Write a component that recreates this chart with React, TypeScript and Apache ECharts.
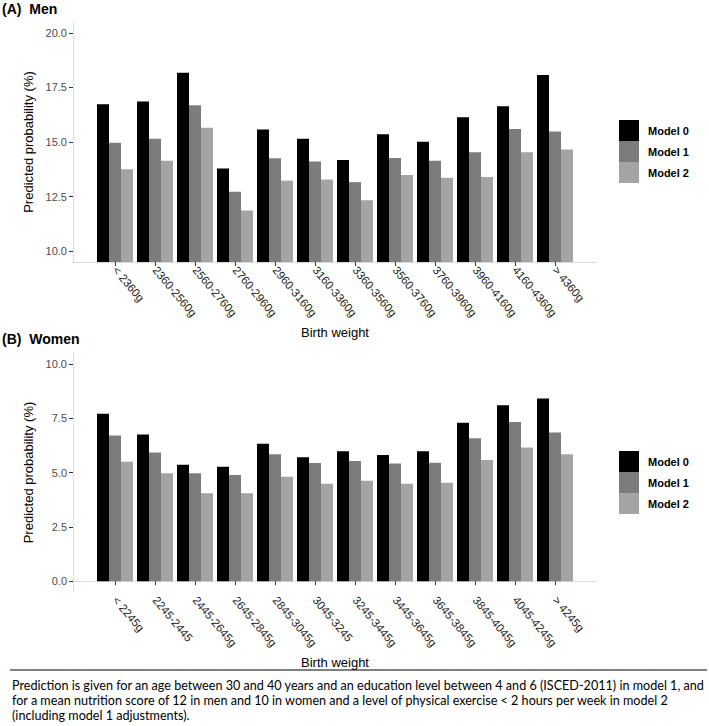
import React, { useEffect, useRef } from "react";
import * as echarts from "echarts";

const menCategories = [
  "< 2360g", "2360-2560g", "2560-2760g", "2760-2960g", "2960-3160g", "3160-3360g",
  "3360-3560g", "3560-3760g", "3760-3960g", "3960-4160g", "4160-4360g", "> 4360g",
];
const womenCategories = [
  "< 2245g", "2245-2445", "2445-2645g", "2645-2845g", "2845-3045g", "3045-3245",
  "3245-3445g", "3445-3645g", "3645-3845g", "3845-4045g", "4045-4245g", "> 4245g",
];
const seriesNames = ["Model 0", "Model 1", "Model 2"];

const menModel0 = [16.73, 16.86, 18.17, 13.78, 15.57, 15.15, 14.18, 15.36, 15.01, 16.14, 16.64, 18.07];
const menModel1 = [14.96, 15.15, 16.69, 12.72, 14.26, 14.11, 13.16, 14.27, 14.14, 14.53, 15.6, 15.48];
const menModel2 = [13.75, 14.14, 15.65, 11.86, 13.23, 13.28, 12.33, 13.49, 13.36, 13.4, 14.53, 14.66];

const womenModel0 = [7.7, 6.75, 5.36, 5.27, 6.32, 5.7, 5.98, 5.81, 5.98, 7.29, 8.1, 8.41];
const womenModel1 = [6.7, 5.92, 4.96, 4.88, 5.84, 5.44, 5.53, 5.41, 5.45, 6.58, 7.32, 6.84];
const womenModel2 = [5.49, 4.96, 4.05, 4.05, 4.81, 4.48, 4.62, 4.48, 4.53, 5.58, 6.15, 5.84];

const menTicks = [10, 12.5, 15, 17.5, 20];
const womenTicks = [0, 2.5, 5, 7.5, 10];

const captionLines = [
  "Prediction is given for an age between 30 and 40 years and an education level between 4 and 6 (ISCED-2011) in model 1, and",
  "for a mean nutrition score of 12 in men and 10 in women and a level of physical exercise < 2 hours per week in model 2",
  "(including model 1 adjustments).",
];

const colors = ["#000000", "#7c7c7c", "#a4a4a4"];
const FONT = "'Liberation Sans', Arial, sans-serif";
const AXIS_LINE = "#dcdcdc";

function frameY(ticks: number[], min: number, max: number, gridIndex: number) {
  return {
    type: "value",
    gridIndex,
    min,
    max,
    axisLine: { show: true, lineStyle: { color: AXIS_LINE, width: 1 } },
    axisTick: { show: true, length: 4, lineStyle: { color: "#333333" }, customValues: ticks },
    axisLabel: {
      customValues: ticks,
      formatter: (v: number) => v.toFixed(1),
      fontSize: 11,
      color: "#4d4d4d",
      fontFamily: FONT,
      margin: 6,
    },
    splitLine: { show: false },
    name: "Predicted probability (%)",
    nameLocation: "middle",
    nameRotate: 90,
    nameGap: 31,
    nameTextStyle: { fontSize: 13, color: "#000", fontFamily: FONT },
  };
}

function frameX(gridIndex: number) {
  return {
    type: "value",
    gridIndex,
    min: 0,
    max: 1,
    axisLine: { show: true, lineStyle: { color: AXIS_LINE, width: 1 } },
    axisTick: { show: false },
    axisLabel: { show: false },
    splitLine: { show: false },
  };
}

function dataX(cats: string[], gridIndex: number) {
  return {
    type: "category",
    gridIndex,
    data: cats,
    axisLine: { show: false },
    axisTick: { show: true, alignWithLabel: true, length: 4, lineStyle: { color: "#333333" } },
    axisLabel: { interval: 0, rotate: -50, margin: 6, fontSize: 11.5, color: "#222222", fontFamily: FONT },
    splitLine: { show: false },
    name: "Birth weight",
    nameLocation: "middle",
    nameGap: 64,
    nameTextStyle: { fontSize: 13, color: "#000", fontFamily: FONT },
  };
}

function dataY(min: number, max: number, gridIndex: number) {
  return { type: "value", gridIndex, min, max, show: false, splitLine: { show: false } };
}

function legend(top: number) {
  return {
    data: seriesNames,
    orient: "vertical",
    left: 619,
    top,
    padding: 0,
    itemWidth: 20,
    itemHeight: 21,
    itemGap: 0,
    icon: "rect",
    selectedMode: false,
    textStyle: { fontSize: 11, fontWeight: "bold", color: "#000", fontFamily: FONT, padding: [0, 0, 0, 4] },
  };
}

export default function App() {
  const ref = useRef<HTMLDivElement>(null);
  useEffect(() => {
    if (!ref.current) return;
    const chart = echarts.init(ref.current, null, { renderer: "svg" });
    const menData = [menModel0, menModel1, menModel2];
    const womenData = [womenModel0, womenModel1, womenModel2];
    const series: any[] = [];
    seriesNames.forEach((name, i) => {
      series.push({
        type: "bar",
        name,
        xAxisIndex: 1,
        yAxisIndex: 1,
        data: menData[i],
        barGap: "0%",
        barCategoryGap: "10%",
        itemStyle: { color: colors[i] },
        clip: true,
      });
    });
    seriesNames.forEach((name, i) => {
      series.push({
        type: "bar",
        name,
        xAxisIndex: 3,
        yAxisIndex: 3,
        data: womenData[i],
        barGap: "0%",
        barCategoryGap: "10%",
        itemStyle: { color: colors[i] },
        clip: true,
      });
    });
    chart.setOption({
      animation: false,
      backgroundColor: "#ffffff",
      color: colors,
      title: [
        { text: "(A)  Men", left: 2, top: 2, padding: 0, textStyle: { fontSize: 14, fontWeight: "bold", color: "#000", fontFamily: FONT } },
        { text: "(B)  Women", left: 2, top: 332, padding: 0, textStyle: { fontSize: 14, fontWeight: "bold", color: "#000", fontFamily: FONT } },
      ],
      grid: [
        { left: 73, top: 22, width: 524, height: 240 },
        { left: 95, top: 22, width: 480, height: 240 },
        { left: 73, top: 353, width: 524, height: 239 },
        { left: 95, top: 353, width: 480, height: 239 },
      ],
      xAxis: [frameX(0), dataX(menCategories, 1), frameX(2), dataX(womenCategories, 3)],
      yAxis: [frameY(menTicks, 9.5, 20.5, 0), dataY(9.5, 20.5, 1), frameY(womenTicks, -0.5, 10.5, 2), dataY(-0.5, 10.5, 3)],
      legend: [legend(120), legend(451)],
      series,
      graphic: [
        { type: "line", shape: { x1: 10, y1: 670, x2: 707, y2: 670 }, style: { stroke: "#000", lineWidth: 1 } },
        ...captionLines.map((t, i) => ({
          type: "text",
          x: 12,
          y: 685 + i * 15,
          style: { text: t, fontSize: 12.6, fontFamily: "Lato, sans-serif", fill: "#000", textVerticalAlign: "middle", textAlign: "left" },
        })),
      ],
    });
    return () => chart.dispose();
  }, []);
  return <div ref={ref} style={{ position: "absolute", left: 0, top: 0, width: 709, height: 726 }} />;
}
